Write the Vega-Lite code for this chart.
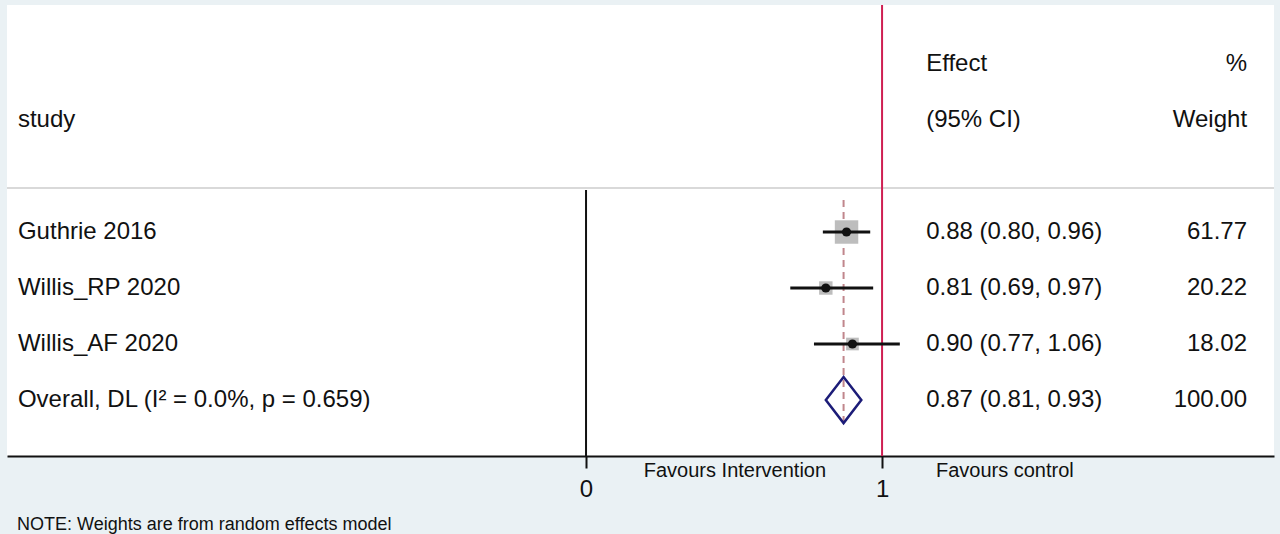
{
  "$schema": "https://vega.github.io/schema/vega-lite/v6.json",
  "width": 1267,
  "height": 451,
  "autosize": {"type": "none"},
  "padding": {"left": 7, "top": 5, "right": 6, "bottom": 78},
  "background": "#eaf1f4",
  "config": {
    "view": {"fill": "white", "stroke": null},
    "font": "Liberation Sans",
    "text": {"font": "Liberation Sans", "fontSize": 24, "color": "#111111", "baseline": "middle"},
    "axisX": {"domainColor": "#111111", "domainWidth": 2, "tickColor": "#111111", "tickWidth": 2, "tickSize": 12, "labelFontSize": 24, "labelColor": "#111111", "labelFont": "Liberation Sans", "labelPadding": 9, "grid": false, "title": null}
  },
  "datasets": {
    "studies": [
      {"study": "Guthrie 2016", "row": 1, "est": 0.88, "lci": 0.80, "uci": 0.96, "weight": 61.77, "ci": "0.88 (0.80, 0.96)", "wt": "61.77", "kind": "study"},
      {"study": "Willis_RP 2020", "row": 2, "est": 0.81, "lci": 0.69, "uci": 0.97, "weight": 20.22, "ci": "0.81 (0.69, 0.97)", "wt": "20.22", "kind": "study"},
      {"study": "Willis_AF 2020", "row": 3, "est": 0.90, "lci": 0.77, "uci": 1.06, "weight": 18.02, "ci": "0.90 (0.77, 1.06)", "wt": "18.02", "kind": "study"},
      {"study": "Overall, DL (I² = 0.0%, p = 0.659)", "row": 4, "est": 0.87, "lci": 0.81, "uci": 0.93, "weight": 100.00, "ci": "0.87 (0.81, 0.93)", "wt": "100.00", "kind": "overall"}
    ]
  },
  "layer": [
    {
      "data": {"values": [{}]},
      "mark": {"type": "rule", "color": "#d9d9d9", "strokeWidth": 2},
      "encoding": {
        "y": {"datum": 0.214, "type": "quantitative", "scale": {"domain": [-3.054, 5], "nice": false, "zero": false, "reverse": true}, "axis": null}
      }
    },
    {
      "data": {"values": [{}]},
      "mark": {"type": "rule", "color": "#111111", "strokeWidth": 2},
      "encoding": {
        "x": {"datum": 0, "type": "quantitative", "scale": {"domain": [-1.956, 2.324], "nice": false, "zero": false}, "axis": {"values": [0, 1], "format": "d", "title": null}},
        "y": {"datum": 0.25, "type": "quantitative", "scale": {"domain": [-3.054, 5], "nice": false, "zero": false, "reverse": true}, "axis": null},
        "y2": {"datum": 5}
      }
    },
    {
      "data": {"values": [{}]},
      "mark": {"type": "rule", "color": "#cf1f52", "strokeWidth": 2},
      "encoding": {
        "x": {"datum": 1, "type": "quantitative", "scale": {"domain": [-1.956, 2.324], "nice": false, "zero": false}, "axis": {"values": [0, 1], "format": "d", "title": null}}
      }
    },
    {
      "data": {"name": "studies"},
      "transform": [{"filter": "datum.kind === 'overall'"}],
      "mark": {"type": "rule", "color": "#c0868c", "strokeWidth": 2, "strokeDash": [7, 5]},
      "encoding": {
        "x": {"field": "est", "type": "quantitative", "scale": {"domain": [-1.956, 2.324], "nice": false, "zero": false}, "axis": {"values": [0, 1], "format": "d", "title": null}},
        "y": {"datum": 0.43, "type": "quantitative", "scale": {"domain": [-3.054, 5], "nice": false, "zero": false, "reverse": true}, "axis": null},
        "y2": {"datum": 4.45}
      }
    },
    {
      "data": {"name": "studies"},
      "transform": [{"filter": "datum.kind === 'study'"}],
      "mark": {"type": "point", "shape": "square", "filled": true, "color": "#bdbdbd", "opacity": 1, "strokeWidth": 0},
      "encoding": {
        "x": {"field": "est", "type": "quantitative", "scale": {"domain": [-1.956, 2.324], "nice": false, "zero": false}, "axis": {"values": [0, 1], "format": "d", "title": null}},
        "y": {"field": "row", "type": "quantitative", "scale": {"domain": [-3.054, 5], "nice": false, "zero": false, "reverse": true}, "axis": null},
        "size": {"field": "weight", "type": "quantitative", "scale": {"type": "linear", "domain": [0, 61.77], "range": [0, 550], "zero": true}, "legend": null}
      }
    },
    {
      "data": {"name": "studies"},
      "transform": [{"filter": "datum.kind === 'study'"}],
      "mark": {"type": "rule", "color": "#111111", "strokeWidth": 3},
      "encoding": {
        "x": {"field": "lci", "type": "quantitative", "scale": {"domain": [-1.956, 2.324], "nice": false, "zero": false}, "axis": {"values": [0, 1], "format": "d", "title": null}},
        "x2": {"field": "uci"},
        "y": {"field": "row", "type": "quantitative", "scale": {"domain": [-3.054, 5], "nice": false, "zero": false, "reverse": true}, "axis": null}
      }
    },
    {
      "data": {"name": "studies"},
      "transform": [{"filter": "datum.kind === 'study'"}],
      "mark": {"type": "point", "shape": "circle", "filled": true, "color": "#111111", "opacity": 1, "size": 85},
      "encoding": {
        "x": {"field": "est", "type": "quantitative", "scale": {"domain": [-1.956, 2.324], "nice": false, "zero": false}, "axis": {"values": [0, 1], "format": "d", "title": null}},
        "y": {"field": "row", "type": "quantitative", "scale": {"domain": [-3.054, 5], "nice": false, "zero": false, "reverse": true}, "axis": null}
      }
    },
    {
      "data": {"name": "studies"},
      "transform": [{"filter": "datum.kind === 'overall'"}],
      "mark": {"type": "point", "shape": "M-1,0L0,-1.3L1,0L0,1.3Z", "filled": false, "stroke": "#1c1c78", "strokeWidth": 2.5, "opacity": 1, "size": 1260},
      "encoding": {
        "x": {"field": "est", "type": "quantitative", "scale": {"domain": [-1.956, 2.324], "nice": false, "zero": false}, "axis": {"values": [0, 1], "format": "d", "title": null}},
        "y": {"field": "row", "type": "quantitative", "scale": {"domain": [-3.054, 5], "nice": false, "zero": false, "reverse": true}, "axis": null}
      }
    },
    {
      "data": {"name": "studies"},
      "mark": {"type": "text", "align": "left"},
      "encoding": {
        "x": {"datum": -1.919, "type": "quantitative"},
        "y": {"field": "row", "type": "quantitative", "scale": {"domain": [-3.054, 5], "nice": false, "zero": false, "reverse": true}, "axis": null},
        "text": {"field": "study"}
      }
    },
    {
      "data": {"name": "studies"},
      "mark": {"type": "text", "align": "left"},
      "encoding": {
        "x": {"datum": 1.149, "type": "quantitative"},
        "y": {"field": "row", "type": "quantitative", "scale": {"domain": [-3.054, 5], "nice": false, "zero": false, "reverse": true}, "axis": null},
        "text": {"field": "ci"}
      }
    },
    {
      "data": {"name": "studies"},
      "mark": {"type": "text", "align": "right"},
      "encoding": {
        "x": {"datum": 2.233, "type": "quantitative"},
        "y": {"field": "row", "type": "quantitative", "scale": {"domain": [-3.054, 5], "nice": false, "zero": false, "reverse": true}, "axis": null},
        "text": {"field": "wt"}
      }
    },
    {
      "data": {"values": [{"t": "study"}]},
      "mark": {"type": "text", "align": "left"},
      "encoding": {"x": {"datum": -1.919, "type": "quantitative"}, "y": {"datum": -1, "type": "quantitative"}, "text": {"field": "t"}}
    },
    {
      "data": {"values": [{"t": "Effect"}]},
      "mark": {"type": "text", "align": "left"},
      "encoding": {"x": {"datum": 1.149, "type": "quantitative"}, "y": {"datum": -2, "type": "quantitative"}, "text": {"field": "t"}}
    },
    {
      "data": {"values": [{"t": "(95% CI)"}]},
      "mark": {"type": "text", "align": "left"},
      "encoding": {"x": {"datum": 1.149, "type": "quantitative"}, "y": {"datum": -1, "type": "quantitative"}, "text": {"field": "t"}}
    },
    {
      "data": {"values": [{"t": "%"}]},
      "mark": {"type": "text", "align": "right"},
      "encoding": {"x": {"datum": 2.233, "type": "quantitative"}, "y": {"datum": -2, "type": "quantitative"}, "text": {"field": "t"}}
    },
    {
      "data": {"values": [{"t": "Weight"}]},
      "mark": {"type": "text", "align": "right"},
      "encoding": {"x": {"datum": 2.233, "type": "quantitative"}, "y": {"datum": -1, "type": "quantitative"}, "text": {"field": "t"}}
    },
    {
      "data": {"values": [{"t": "Favours Intervention"}]},
      "mark": {"type": "text", "align": "right", "fontSize": 20},
      "encoding": {"x": {"datum": 0.811, "type": "quantitative"}, "y": {"datum": 5.26, "type": "quantitative"}, "text": {"field": "t"}}
    },
    {
      "data": {"values": [{"t": "Favours control"}]},
      "mark": {"type": "text", "align": "left", "fontSize": 20},
      "encoding": {"x": {"datum": 1.182, "type": "quantitative"}, "y": {"datum": 5.26, "type": "quantitative"}, "text": {"field": "t"}}
    },
    {
      "data": {"values": [{"t": "NOTE: Weights are from random effects model"}]},
      "mark": {"type": "text", "align": "left", "fontSize": 18},
      "encoding": {"x": {"datum": -1.922, "type": "quantitative"}, "y": {"datum": 6.24, "type": "quantitative"}, "text": {"field": "t"}}
    }
  ]
}
